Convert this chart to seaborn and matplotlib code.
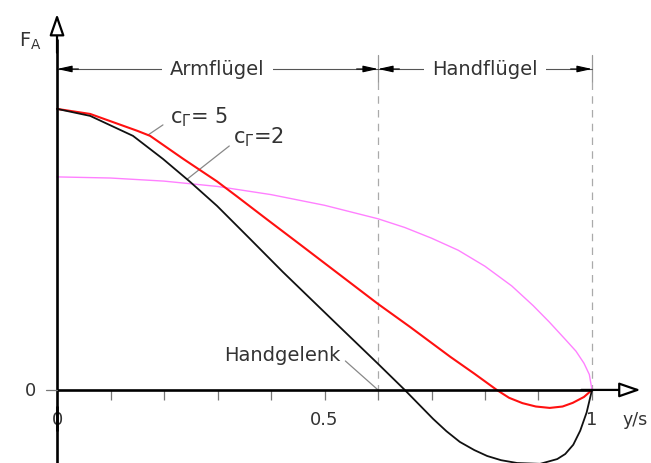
import numpy as np
import pandas as pd
import matplotlib
matplotlib.use("Agg")
import matplotlib.pyplot as plt
import seaborn as sns

# Spanwise position y/s and normalised force F_A
x_black = [0.0, 0.062, 0.142, 0.198, 0.249, 0.299, 0.361, 0.422, 0.516, 0.600, 0.650,
           0.703, 0.728, 0.753, 0.780, 0.804, 0.830, 0.860, 0.903, 0.935, 0.950, 0.965,
           0.978, 0.990, 1.0]
f_black = [1.0, 0.975, 0.904, 0.822, 0.740, 0.655, 0.537, 0.420, 0.247, 0.093, 0.0,
           -0.103, -0.147, -0.185, -0.214, -0.235, -0.250, -0.260, -0.263, -0.246, -0.228,
           -0.195, -0.145, -0.080, 0.0]

x_red = [0.0, 0.062, 0.150, 0.174, 0.236, 0.299, 0.336, 0.393, 0.454, 0.516, 0.600,
         0.660, 0.735, 0.780, 0.822, 0.845, 0.870, 0.895, 0.921, 0.945, 0.964, 0.985, 1.0]
f_red = [1.0, 0.982, 0.922, 0.904, 0.822, 0.742, 0.689, 0.606, 0.518, 0.428, 0.306,
         0.224, 0.118, 0.058, 0.0, -0.028, -0.047, -0.059, -0.064, -0.059, -0.046, -0.025, 0.0]

x_ell = [0.0, 0.1, 0.2, 0.3, 0.4, 0.5, 0.6, 0.65, 0.7, 0.75, 0.8, 0.85, 0.89, 0.92,
         0.95, 0.97, 0.985, 0.995, 1.0]
f_ell = [0.758, 0.754, 0.743, 0.724, 0.695, 0.657, 0.609, 0.578, 0.540, 0.497, 0.440,
         0.370, 0.300, 0.242, 0.180, 0.138, 0.095, 0.055, 0.0]

tick_pos = [0.1, 0.2, 0.3, 0.4, 0.5, 0.6, 0.7, 0.8, 0.9, 1.0]
tick_labels = {0.0: "0", 0.5: "0.5", 1.0: "1"}
sections = [("Armflügel", 0.0, 0.6), ("Handflügel", 0.6, 1.0)]
wrist = 0.6

sns.set_style("white")
plt.rcParams["font.family"] = ["DejaVu Sans"]
plt.rcParams["mathtext.fontset"] = "dejavusans"

fig = plt.figure(figsize=(6.51, 4.64), dpi=100)
ax = fig.add_axes([0, 0, 1, 1])
ax.set_xlim(-0.1066, 1.1103)
ax.set_ylim(-0.260, 1.391)
ax.axis("off")

txt = "#333333"
grey = "#999999"

df = pd.concat([
    pd.DataFrame({"x": x_ell, "F": f_ell, "c": "ell"}),
    pd.DataFrame({"x": x_red, "F": f_red, "c": "5"}),
    pd.DataFrame({"x": x_black, "F": f_black, "c": "2"}),
])
palette = {"ell": "#ff80ff", "5": "#ff1010", "2": "#111111"}
widths = {"ell": 1.0, "5": 1.5, "2": 1.3}
for key, sub in df.groupby("c", sort=False):
    sns.lineplot(data=sub, x="x", y="F", color=palette[key], lw=widths[key],
                 sort=False, estimator=None, ax=ax, zorder=4)

# coordinate axes with open arrow heads
head = "-|>,head_length=1.3,head_width=0.45"
ax.plot([0, 0], [-0.260, -0.057], color="black", lw=1.9, zorder=5, solid_capstyle="butt")
ax.plot([0, 0], [-0.146, 1.25], color="black", lw=1.9, zorder=5, solid_capstyle="butt")
ax.annotate("", xy=(0, 1.338), xytext=(0, 1.2),
            arrowprops=dict(arrowstyle=head, fc="white", ec="black", lw=1.6,
                            shrinkA=0, shrinkB=0), zorder=6)
ax.plot([0, 1.0], [0, 0], color="black", lw=1.9, zorder=5, solid_capstyle="butt")
ax.annotate("", xy=(1.091, 0), xytext=(0.98, 0),
            arrowprops=dict(arrowstyle=head, fc="white", ec="black", lw=1.6,
                            shrinkA=0, shrinkB=0), zorder=6)
ax.plot([-0.02, 0], [0, 0], color="#777777", lw=0.9, zorder=5)

# ticks below the x axis
ax.vlines(tick_pos, -0.036, 0, color="#777777", lw=0.9, zorder=3)
for pos, lab in tick_labels.items():
    ax.text(pos, -0.103, lab, ha="center", va="center", fontsize=13, color=txt)
ax.text(1.081, -0.103, "y/s", ha="center", va="center", fontsize=12.5, color=txt)
ax.text(-0.050, 0.0, "0", ha="center", va="center", fontsize=13, color=txt)
ax.text(-0.050, 1.245, r"F$_\mathrm{A}$", ha="center", va="center", fontsize=14, color=txt)

# section boundaries and dimension lines
for xb in [0.6, 1.0]:
    ax.plot([xb, xb], [1.19, 1.095], color=grey, lw=0.9, zorder=2)
    ax.plot([xb, xb], [1.095, 0.0], color="#aaaaaa", lw=0.9, ls=(0, (6, 5)), zorder=2)
ydim = 1.142
for name, a, b in sections:
    ax.plot([a, b], [ydim, ydim], color="#555555", lw=0.8, zorder=3)
    for tip, tail in [(a, a + 0.04), (b, b - 0.04)]:
        ax.annotate("", xy=(tip, ydim), xytext=(tail, ydim),
                    arrowprops=dict(arrowstyle="-|>,head_length=0.9,head_width=0.2",
                                    fc="black", ec="black", lw=0.8, shrinkA=0, shrinkB=0),
                    zorder=4)
    ax.text((a + b) / 2, ydim, name, ha="center", va="center", fontsize=14, color=txt,
            bbox=dict(fc="white", ec="none", pad=6), zorder=5)

# labels with leader lines
x5 = 0.170
ax.plot([x5, 0.198], [np.interp(x5, x_red, f_red), 0.943], color="#888888", lw=0.9, zorder=3)
ax.text(0.211, 0.975, r"c$_\Gamma$= 5", ha="left", va="center", fontsize=15, color=txt)
x2 = 0.243
ax.plot([x2, 0.322], [np.interp(x2, x_black, f_black), 0.868], color="#888888", lw=0.9, zorder=3)
ax.text(0.329, 0.904, r"c$_\Gamma$=2", ha="left", va="center", fontsize=15, color=txt)
ax.plot([wrist, 0.539], [0.0, 0.103], color="#888888", lw=0.9, zorder=3)
ax.text(0.421, 0.125, "Handgelenk", ha="center", va="center", fontsize=14, color=txt)

fig.savefig("out.png", dpi=100)
